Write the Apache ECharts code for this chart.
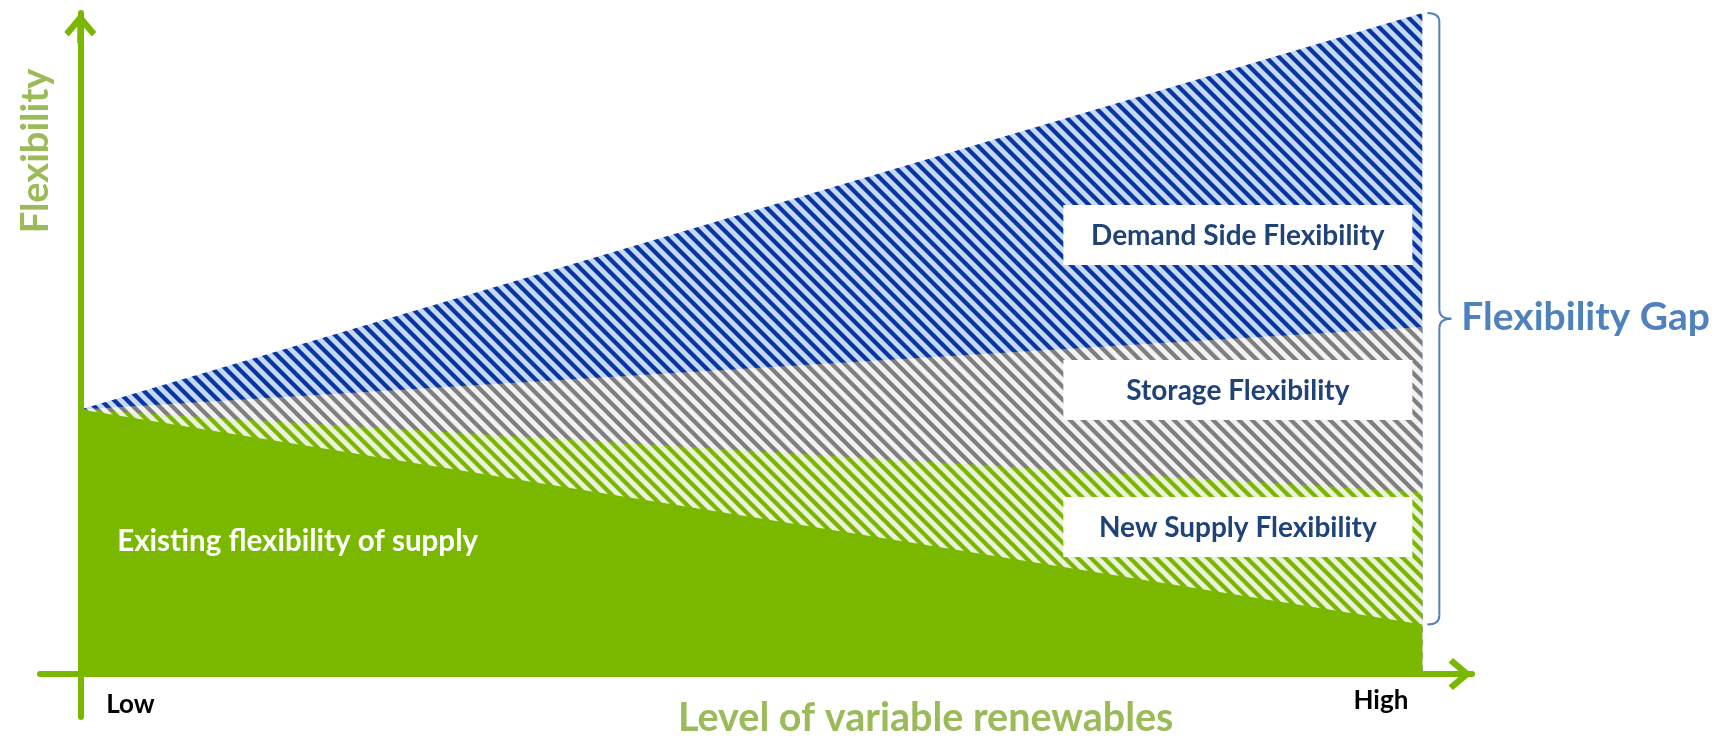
<!DOCTYPE html>
<html>
<head>
<meta charset="utf-8">
<script src="https://cdn.jsdelivr.net/npm/echarts@6/dist/echarts.min.js"></script>
<style>
html,body{margin:0;padding:0;background:#ffffff;}
#chart{width:1722px;height:738px;}
</style>
</head>
<body>
<div id="chart"></div>
<script>
// ---- data ----
const xPositions = [0, 100];              // Low -> High
const xTickLabels = ['Low', 'High'];
const existingSupply = [40, 7.5];         // layer thickness (bottom to top)
const newSupply = [0, 20];
const storage = [0, 25];
const demandSide = [0, 47.5];
const layerNames = ['Existing flexibility of supply', 'New Supply Flexibility', 'Storage Flexibility', 'Demand Side Flexibility'];
const xAxisTitle = 'Level of variable renewables';
const yAxisTitle = 'Flexibility';
const gapTitle = 'Flexibility Gap';

// ---- styles ----
const GREEN = '#7ab800';
const TITLE_GREEN = '#9bbb59';
const LABEL_BLUE = '#1f4279';
const GAP_BLUE = '#4f81bd';
const FONT = 'Lato, "Open Sans", sans-serif';

function hatch(bg, fg) {
  const N = 13;
  const c = document.createElement('canvas');
  c.width = N; c.height = N;
  const g = c.getContext('2d');
  g.fillStyle = bg; g.fillRect(0, 0, N, N);
  g.strokeStyle = fg; g.lineWidth = 4.2;
  for (const k of [-1, 0, 1]) {
    g.beginPath();
    g.moveTo(k * N - 3, -3);
    g.lineTo(k * N + N + 3, N + 3);
    g.stroke();
  }
  return { image: c, repeat: 'repeat' };
}

// cumulative tops of each layer
const layers = [existingSupply, newSupply, storage, demandSide];
const cumulative = [];
layers.forEach((arr, li) => {
  cumulative.push(arr.map((v, i) => v + (li ? cumulative[li - 1][i] : 0)));
});
const pairs = arr => xPositions.map((x, i) => [x, arr[i]]);
const chevron = 'path://M16,0 L32,19 L27.5,23.5 L19,13.5 L19,30 L13,30 L13,13.5 L4.5,23.5 L0,19 Z';
const fills = [GREEN, hatch('#ebf1dd', GREEN), hatch('#f2f2f2', '#7f7f7f'), hatch('#c6d9f1', '#0836a0')];

// draw the top layer first; each lower layer covers the part below it
const series = [3, 2, 1, 0].map(li => ({
  name: layerNames[li], type: 'line', data: pairs(cumulative[li]),
  symbol: 'none', lineStyle: { width: 0 }, areaStyle: { color: fills[li], opacity: 1 },
  silent: true, clip: false
}));

const chart = echarts.init(document.getElementById('chart'), null, { renderer: 'canvas' });
const axisLineStyle = {
  show: true, onZero: true,
  lineStyle: { color: GREEN, width: 6 },
  symbol: ['none', chevron], symbolSize: [32, 30], symbolOffset: [0, -15]
};
chart.setOption({
  animation: false,
  grid: { left: 40, right: 250, top: 13, bottom: 21 },
  xAxis: { type: 'value', min: -3, max: 103.7, axisLine: axisLineStyle, axisTick: { show: false }, axisLabel: { show: false }, splitLine: { show: false }, z: 5 },
  yAxis: { type: 'value', min: -6.5, max: 100, axisLine: axisLineStyle, axisTick: { show: false }, axisLabel: { show: false }, splitLine: { show: false }, z: 5 },
  series
});

// ---- annotations positioned from the axes ----
const toPx = (x, y) => chart.convertToPixel({ gridIndex: 0 }, [x, y]);
const pxLeft = toPx(xPositions[0], 0), pxRight = toPx(xPositions[1], 0);
const gapTop = toPx(xPositions[1], cumulative[3][1]);
const gapBot = toPx(xPositions[1], cumulative[0][1]);
const bx = pxRight[0] + 17, bMid = (gapTop[1] + gapBot[1]) / 2;

const boxLeft = pxRight[0] - 359, boxW = 349, boxH = 60;
const boxTops = [497, 360, 205];
const graphics = [];
[1, 2, 3].forEach((li, i) => {
  graphics.push({
    type: 'rect', shape: { x: boxLeft, y: boxTops[i], width: boxW, height: boxH },
    style: { fill: '#ffffff' }, z: 10
  });
  graphics.push({
    type: 'text', x: boxLeft + boxW / 2, y: boxTops[i] + boxH / 2 + 1, z: 11,
    style: { text: layerNames[li], fill: LABEL_BLUE, font: 'bold 28px ' + FONT, align: 'center', verticalAlign: 'middle' }
  });
});
graphics.push({
  type: 'text', x: pxLeft[0] + 37, y: 541, z: 11,
  style: { text: layerNames[0], fill: '#ffffff', font: 'bold 29.5px ' + FONT, align: 'left', verticalAlign: 'middle' }
});
graphics.push({
  type: 'text', x: pxLeft[0] + 26, y: 705, z: 11,
  style: { text: xTickLabels[0], fill: '#000000', font: 'bold 26px ' + FONT, align: 'left', verticalAlign: 'middle' }
});
graphics.push({
  type: 'text', x: pxRight[0] - 14, y: 701, z: 11,
  style: { text: xTickLabels[1], fill: '#000000', font: 'bold 26px ' + FONT, align: 'right', verticalAlign: 'middle' }
});
graphics.push({
  type: 'text', x: 678, y: 718, z: 11,
  style: { text: xAxisTitle, fill: TITLE_GREEN, font: 'bold 39.5px ' + FONT, align: 'left', verticalAlign: 'middle' }
});
graphics.push({
  type: 'text', x: 36, y: 151, rotation: Math.PI / 2, z: 11,
  style: { text: yAxisTitle, fill: TITLE_GREEN, font: 'bold 38px ' + FONT, align: 'center', verticalAlign: 'middle' }
});
// bracket for the flexibility gap
const bStyle = { fill: null, stroke: GAP_BLUE, lineWidth: 2 };
const r = 9;
graphics.push(
  { type: 'bezierCurve', z: 11, shape: { x1: bx - 12, y1: gapTop[1], cpx1: bx, cpy1: gapTop[1], x2: bx, y2: gapTop[1] + r }, style: bStyle },
  { type: 'line', z: 11, shape: { x1: bx, y1: gapTop[1] + r, x2: bx, y2: bMid - r }, style: bStyle },
  { type: 'bezierCurve', z: 11, shape: { x1: bx, y1: bMid - r, cpx1: bx, cpy1: bMid, x2: bx + 12, y2: bMid }, style: bStyle },
  { type: 'bezierCurve', z: 11, shape: { x1: bx, y1: bMid + r, cpx1: bx, cpy1: bMid, x2: bx + 12, y2: bMid }, style: bStyle },
  { type: 'line', z: 11, shape: { x1: bx, y1: bMid + r, x2: bx, y2: gapBot[1] - r }, style: bStyle },
  { type: 'bezierCurve', z: 11, shape: { x1: bx - 12, y1: gapBot[1], cpx1: bx, cpy1: gapBot[1], x2: bx, y2: gapBot[1] - r }, style: bStyle }
);
graphics.push({
  type: 'text', x: bx + 22, y: bMid - 1, z: 11,
  style: { text: gapTitle, fill: GAP_BLUE, font: 'bold 39px ' + FONT, align: 'left', verticalAlign: 'middle' }
});
chart.setOption({ graphic: graphics });
</script>
</body>
</html>
